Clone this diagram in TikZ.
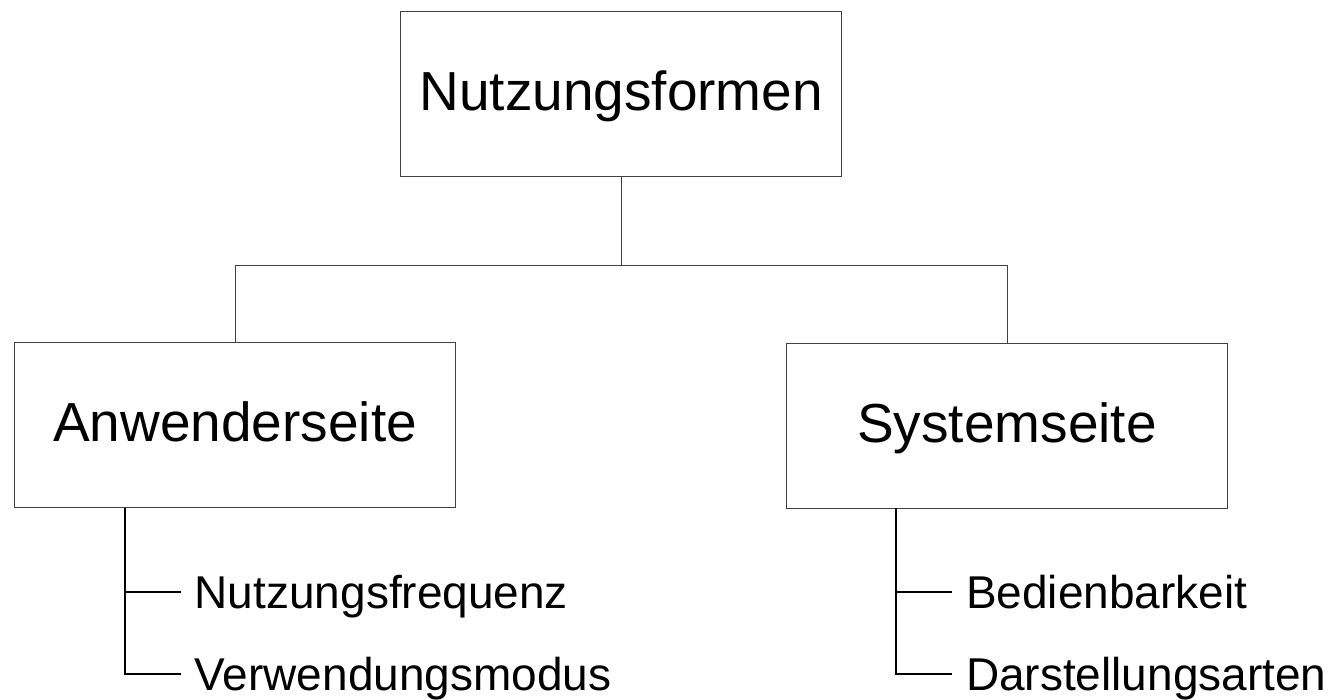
\documentclass[tikz,border=0pt]{standalone}
\usepackage{fontspec}
\setmainfont{Liberation Sans}
\definecolor{boxline}{HTML}{404040}
\begin{document}
\begin{tikzpicture}[x=1pt,y=1pt,
  box/.style={draw=boxline, line width=1pt, minimum width=441pt, minimum height=165pt,
    inner sep=0pt, font=\fontsize{55}{66}\selectfont, text height=39.4pt, text depth=6.2pt},
  leaf/.style={anchor=west, inner xsep=13.5pt, inner ysep=0pt,
    font=\fontsize{46}{55}\selectfont, text height=32.9pt, text depth=0pt},
  link/.style={draw=boxline, line width=1pt},
  tree/.style={draw=black, line width=2pt}]
\useasboundingbox (0,0) rectangle (1339,-699);
\node[box] (top) at (621.2,-93.9) {Nutzungsformen};
\node[box] (anw) at (235.2,-425.3) {Anwenderseite};
\node[box] (sys) at (1007,-425.5) {Systemseite};
\coordinate (hub) at (621.2,-265.3);
\draw[link] (top.south) -- (hub);
\draw[link] (hub) -| (anw.north);
\draw[link] (hub) -| (sys.north);
\node[leaf] (nf) at (181,-592) {Nutzungsfrequenz};
\node[leaf] (vm) at (181,-674) {Verwendungsmodus};
\node[leaf] (bb) at (952.3,-592) {Bedienbarkeit};
\node[leaf] (da) at (952.3,-674) {Darstellungsarten};
\coordinate (lt) at (124.5,-508);
\coordinate (rt) at (896,-508);
\draw[tree] (lt) |- (nf.west);
\draw[tree] (lt) |- (vm.west);
\draw[tree] (rt) |- (bb.west);
\draw[tree] (rt) |- (da.west);
\end{tikzpicture}
\end{document}
